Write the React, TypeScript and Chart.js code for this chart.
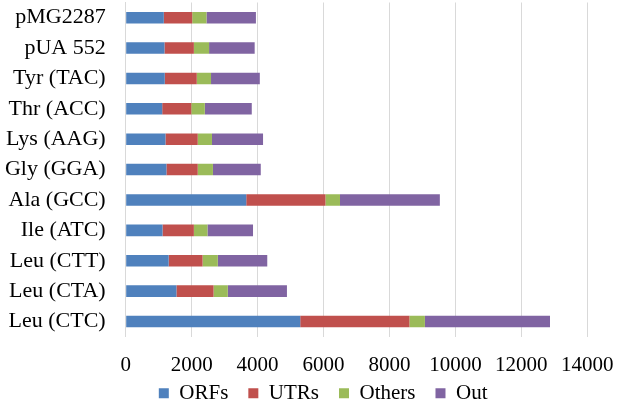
import React, { useEffect, useRef } from "react";
import { Chart, registerables } from "chart.js";

Chart.register(...registerables);

const categories = [
  "pMG2287",
  "pUA 552",
  "Tyr (TAC)",
  "Thr (ACC)",
  "Lys (AAG)",
  "Gly (GGA)",
  "Ala (GCC)",
  "Ile (ATC)",
  "Leu (CTT)",
  "Leu (CTA)",
  "Leu (CTC)",
];

const orfs = [1156, 1176, 1185, 1107, 1206, 1235, 3656, 1117, 1303, 1538, 5294];
const utrs = [862, 892, 971, 883, 979, 950, 2403, 951, 1029, 1127, 3312];
const others = [432, 461, 432, 410, 432, 461, 441, 412, 462, 432, 470];
const out = [1500, 1383, 1480, 1424, 1549, 1451, 3029, 1382, 1500, 1794, 3794];

const seriesNames = ["ORFs", "UTRs", "Others", "Out"];
const seriesColors = ["#4F81BD", "#C0504D", "#9BBB59", "#8064A2"];

const xMin = 0;
const xMax = 14000;
const xStep = 2000;

const SERIF = "'Liberation Serif', 'Times New Roman', serif";

const legendOffset = {
  id: "legendOffset",
  afterLayout(chart: any) {
    const lg = chart.legend;
    if (!lg) return;
    lg.left += 22;
    lg.right += 22;
    lg.top -= 9;
  },
};

export default function App() {
  const canvasRef = useRef<HTMLCanvasElement | null>(null);

  useEffect(() => {
    document.body.style.margin = "0";
    const canvas = canvasRef.current;
    if (!canvas) return;
    Chart.defaults.font.family = SERIF;
    Chart.defaults.color = "#000";
    const seriesValues = [orfs, utrs, others, out];
    const chart = new Chart(canvas, {
      type: "bar",
      data: {
        labels: categories,
        datasets: seriesNames.map((name, i) => ({
          label: name,
          data: seriesValues[i],
          backgroundColor: seriesColors[i],
          borderWidth: 0,
          barPercentage: 0.38,
          categoryPercentage: 1,
        })),
      },
      options: {
        indexAxis: "y",
        responsive: false,
        animation: false,
        layout: { padding: { top: 2.5, right: 27.7, left: 0, bottom: 0 } },
        scales: {
          x: {
            stacked: true,
            min: xMin,
            max: xMax,
            ticks: {
              stepSize: xStep,
              color: "#000",
              padding: 16.5,
              maxRotation: 0,
              font: { family: SERIF, size: 21 },
              callback: (v: any) => String(v),
            },
            grid: { color: "#D9D9D9", drawTicks: false, lineWidth: 1 },
            border: { display: false },
            afterFit: (scale: any) => {
              scale.height = 35;
              scale.paddingLeft = 0;
            },
          },
          y: {
            stacked: true,
            ticks: {
              color: "#000",
              padding: 20,
              autoSkip: false,
              font: { family: SERIF, size: 22 },
            },
            grid: { display: false, drawTicks: false },
            border: { display: true, color: "#D9D9D9" },
            afterFit: (scale: any) => {
              scale.width = 125.7;
              scale.paddingTop = 0;
              scale.paddingBottom = 0;
            },
          },
        },
        plugins: {
          legend: {
            position: "bottom",
            maxHeight: 33.3,
            labels: {
              boxWidth: 10,
              boxHeight: 10,
              padding: 20,
              color: "#000",
              font: { family: SERIF, size: 21 },
            },
          },
          tooltip: { enabled: false },
        },
      },
      plugins: [legendOffset],
    });
    return () => chart.destroy();
  }, []);

  return (
    <div style={{ width: 630, height: 405 }}>
      <canvas ref={canvasRef} width={630} height={405} />
    </div>
  );
}
